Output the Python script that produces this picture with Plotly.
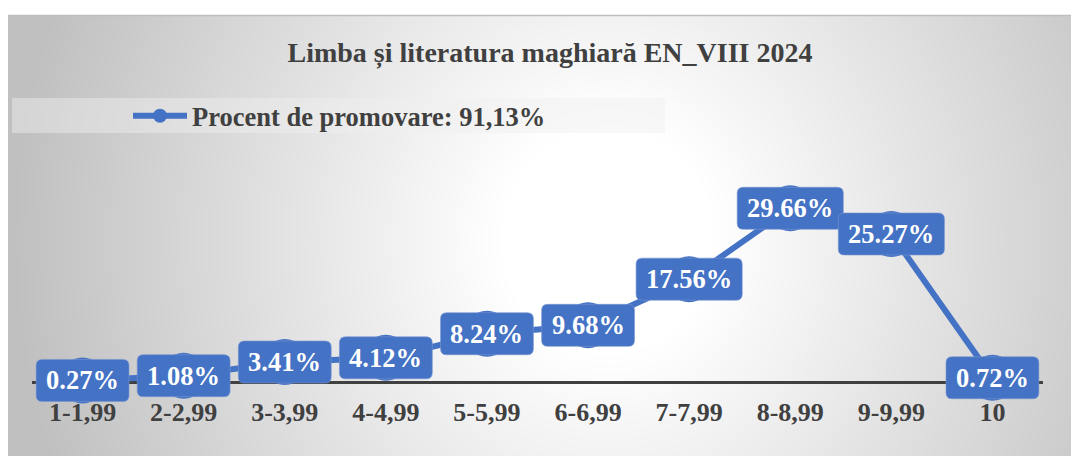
import base64, struct, zlib
import numpy as np
import plotly.graph_objects as go

# ---- data ----
categories = ["1-1,99", "2-2,99", "3-3,99", "4-4,99", "5-5,99",
              "6-6,99", "7-7,99", "8-8,99", "9-9,99", "10"]
values = [0.27, 1.08, 3.41, 4.12, 8.24, 9.68, 17.56, 29.66, 25.27, 0.72]
series_name = "Procent de promovare: 91,13%"
title_text = "Limba și literatura maghiară EN_VIII 2024"

# ---- layout geometry (page body adds an 8px offset) ----
W, H = 1071, 448
ML, MR, MT, MB = 24, 36, 169, 54
PW, PH = W - ML - MR, H - MT - MB
YMAX = 35.0
SCALE = 205 / YMAX           # px per unit
YMIN = -20 / SCALE           # room below zero for the label boxes
BLUE = "#4472C4"
DARK = "#404040"
FONT = "Liberation Serif, Times New Roman, serif"
LBL = 26.5


def px2x(px):
    return (px - ML) / PW


def py2y(py):
    return (H - MB - py) / PH


# ---- background radial gradient image ----
def png_gray(arr):
    h, w = arr.shape
    raw = b"".join(b"\x00" + arr[i].tobytes() for i in range(h))

    def chunk(t, d):
        return struct.pack(">I", len(d)) + t + d + struct.pack(">I", zlib.crc32(t + d) & 0xffffffff)

    return (b"\x89PNG\r\n\x1a\n"
            + chunk(b"IHDR", struct.pack(">IIBBBBB", w, h, 8, 0, 0, 0, 0))
            + chunk(b"IDAT", zlib.compress(raw, 9))
            + chunk(b"IEND", b""))


fx0, fy0 = 0, 7
fw, fh = W - fx0, H - fy0
gw, gh = fw // 2, fh // 2
xx, yy = np.meshgrid(np.linspace(fx0, W, gw), np.linspace(fy0, H, gh))
d = np.sqrt(((xx - 600) / 600.0) ** 2 + ((yy - 232) / 650.0) ** 2)
t = np.clip((d - 0.18) / 0.82, 0, 1)
img = (255 - 63 * t).astype(np.uint8)
src = "data:image/png;base64," + base64.b64encode(png_gray(img)).decode()

fig = go.Figure()

# big markers (peek out behind label boxes)
fig.add_trace(go.Scatter(
    x=categories, y=values, mode="markers",
    marker=dict(size=46, color=BLUE), showlegend=False,
    hoverinfo="skip", cliponaxis=False,
))
# main line
fig.add_trace(go.Scatter(
    x=categories, y=values, mode="lines+markers", name=f"<b>{series_name}</b>",
    line=dict(color=BLUE, width=6),
    marker=dict(size=14, color=BLUE),
    cliponaxis=False,
))

# label boxes (rounded rectangles anchored at data points) + text
shapes = []
annotations = []
char_w = {".": 0.25, "%": 1.0}
for i, v in enumerate(values):
    label = f"{v:.2f}%"
    tw = sum(char_w.get(c, 0.5) for c in label) * LBL
    hw = tw / 2 + 10
    hh = 21
    r = 6
    path = (f"M{-hw},{-hh + r} Q{-hw},{-hh} {-hw + r},{-hh} L{hw - r},{-hh} "
            f"Q{hw},{-hh} {hw},{-hh + r} L{hw},{hh - r} Q{hw},{hh} {hw - r},{hh} "
            f"L{-hw + r},{hh} Q{-hw},{hh} {-hw},{hh - r} Z")
    shapes.append(dict(
        type="path", xref="x", yref="y", xsizemode="pixel", ysizemode="pixel",
        xanchor=i, yanchor=v, path=path, fillcolor=BLUE,
        line=dict(color="rgba(120,150,210,0.6)", width=1), layer="above",
    ))
    annotations.append(dict(
        x=i, y=v, xref="x", yref="y", text=f"<b>{label}</b>", showarrow=False,
        xanchor="center", yanchor="middle",
        font=dict(family=FONT, size=LBL, color="white"),
    ))

# legend background box
shapes.insert(0, dict(
    type="rect", xref="paper", yref="paper",
    x0=px2x(4), x1=px2x(657), y0=py2y(125), y1=py2y(90),
    fillcolor="rgba(239,239,239,0.45)", line=dict(width=0), layer="below",
))
# chart frame
shapes.insert(0, dict(
    type="rect", xref="paper", yref="paper",
    x0=px2x(0.5), x1=px2x(W + 5), y0=py2y(H + 5), y1=py2y(7.5),
    fillcolor="rgba(0,0,0,0)", line=dict(color="#bfbfbf", width=1.5), layer="below",
))

fig.update_layout(
    width=W, height=H,
    margin=dict(l=ML, r=MR, t=MT, b=MB, autoexpand=False),
    paper_bgcolor="white", plot_bgcolor="rgba(0,0,0,0)",
    title=dict(text=f"<b>{title_text}</b>", xref="container", yref="container",
               x=542 / W, y=1 - 44 / H, xanchor="center", yanchor="middle",
               font=dict(family=FONT, size=28, color=DARK)),
    legend=dict(xref="container", yref="container", x=120 / W, y=1 - 108 / H,
                xanchor="left", yanchor="middle", orientation="h",
                bgcolor="rgba(0,0,0,0)", itemwidth=54,
                font=dict(family=FONT, size=26.5, color=DARK)),
    xaxis=dict(type="category", range=[-0.5, len(categories) - 0.5],
               showline=False, ticks="", showgrid=False, zeroline=False,
               ticklabelstandoff=-8,
               tickfont=dict(family=FONT, size=26, color=DARK),
               tickprefix="<b>", ticksuffix="</b>"),
    yaxis=dict(range=[YMIN, YMAX], showticklabels=False, ticks="", showgrid=False,
               showline=False, zeroline=True, zerolinecolor=DARK, zerolinewidth=3),
    shapes=shapes,
    annotations=annotations,
    images=[dict(source=src, xref="paper", yref="paper",
                 x=px2x(fx0), y=py2y(fy0), sizex=fw / PW, sizey=fh / PH,
                 xanchor="left", yanchor="top", sizing="stretch", layer="below")],
    showlegend=True,
)

fig.write_html("out.html")
